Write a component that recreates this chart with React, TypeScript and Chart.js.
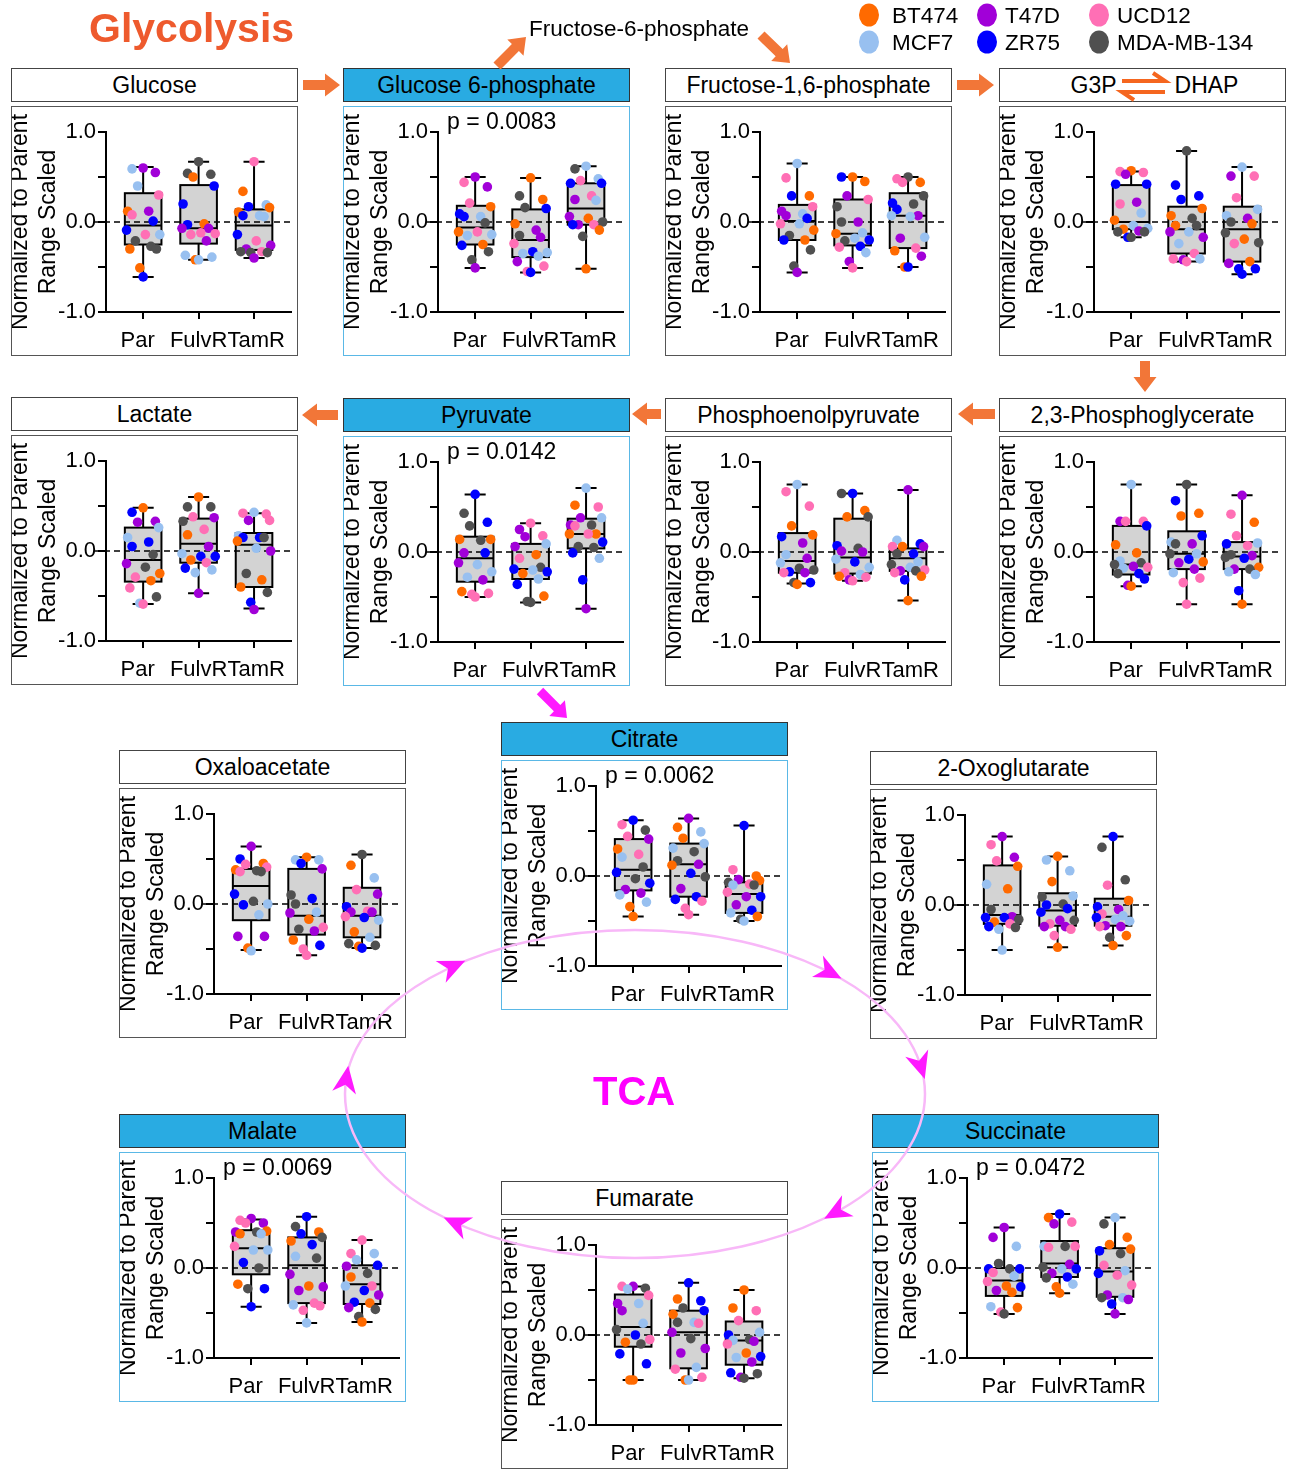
import React, { useEffect, useRef } from 'react';
import { Chart, registerables } from 'chart.js';

Chart.register(...registerables);

const FONT = "'Liberation Sans', Arial, Helvetica, sans-serif";
Chart.defaults.font.family = FONT;
Chart.defaults.color = '#000';

// ---------------- data ----------------
const GROUPS = ['Par', 'FulvR', 'TamR'];
const CELL_LINES = ['BT474', 'T47D', 'UCD12', 'MCF7', 'ZR75', 'MDA-MB-134'];
const LINE_COLORS = ['#ff6a00', '#a100d8', '#ff6fb5', '#98c0f0', '#0000ff', '#505050'];
const Y_TICKS = [-1, -0.5, 0, 0.5, 1];
const Y_TICK_LABELS = ['-1.0', '', '0.0', '', '1.0'];
const Y_TITLE = ['Normalized to Parent', 'Range Scaled'];

// points: [group][cell line][replicate]; box: [min, q1, median, q3, max] per group
const GLUCOSE = [
  [[0.12, -0.30, -0.51], [0.55, 0.60, 0.12], [0.30, 0.08, -0.14], [0.59, 0.40, -0.14], [0.01, -0.09, -0.61], [-0.21, -0.27, -0.30]],
  [[0.50, -0.02, -0.42], [-0.07, -0.07, -0.21], [-0.12, -0.13, -0.14], [-0.37, -0.42, -0.39], [0.40, 0.20, -0.03], [0.54, 0.53, 0.67]],
  [[0.34, 0.16, 0.11], [-0.26, -0.30, -0.40], [0.67, -0.21, -0.33], [0.19, 0.07, 0.06], [0.17, 0.07, -0.14], [-0.33, -0.34, -0.34]],
];
const GLUCOSE_BOX = [[-0.61, -0.25, -0.04, 0.32, 0.61], [-0.42, -0.24, -0.07, 0.41, 0.67], [-0.40, -0.31, -0.04, 0.14, 0.67]];

const G6P = [
  [[0.17, -0.11, -0.25], [0.50, 0.39, -0.51], [0.44, 0.21, -0.11], [0.06, -0.14, -0.15], [0.09, 0.06, -0.26], [-0.01, -0.33, -0.42]],
  [[0.49, 0.25, -0.02], [-0.09, -0.17, -0.44], [-0.24, -0.49, -0.55], [-0.34, -0.35, -0.38], [0.15, -0.33, -0.56], [0.29, 0.16, -0.15]],
  [[0.04, -0.09, -0.52], [0.25, 0.06, -0.03], [0.46, 0.29, -0.03], [0.62, 0.48, 0.24], [0.43, 0.43, -0.03], [0.59, 0.0, -0.16]],
];
const G6P_BOX = [[-0.51, -0.25, -0.06, 0.18, 0.50], [-0.56, -0.39, -0.20, 0.14, 0.49], [-0.52, -0.03, 0.15, 0.43, 0.62]];

const F16P = [
  [[0.29, -0.09, -0.20], [0.12, 0.07, -0.56], [0.49, 0.17, -0.02], [0.65, 0.09, -0.02], [0.29, 0.04, -0.20], [-0.15, -0.31, -0.49]],
  [[0.50, 0.45, -0.13], [0.29, 0.0, -0.44], [0.25, -0.28, -0.51], [-0.12, -0.18, -0.34], [0.50, -0.20, -0.27], [0.17, 0.0, -0.21]],
  [[0.44, -0.32, -0.50], [0.07, -0.18, -0.38], [0.48, 0.44, -0.29], [0.07, 0.06, -0.17], [0.21, 0.14, -0.50], [0.50, 0.29, 0.20]],
];
const F16P_BOX = [[-0.56, -0.20, 0.01, 0.19, 0.65], [-0.51, -0.26, -0.13, 0.25, 0.50], [-0.50, -0.29, 0.07, 0.32, 0.50]];

const G3P = [
  [[0.57, 0.02, -0.08], [0.53, 0.22, -0.10], [0.56, 0.55, 0.20], [0.10, -0.04, -0.07], [0.42, 0.42, -0.17], [-0.11, -0.11, -0.17]],
  [[0.15, 0.07, -0.04], [-0.11, -0.17, -0.42], [-0.35, -0.44, -0.41], [-0.11, -0.24, -0.41], [0.41, 0.29, 0.25], [0.79, 0.04, -0.04]],
  [[-0.02, -0.19, -0.44], [0.51, 0.04, -0.46], [0.51, 0.27, -0.24], [0.61, 0.14, 0.07], [-0.52, -0.52, -0.58], [0.0, -0.12, -0.23]],
];
const G3P_BOX = [[-0.17, -0.08, 0.0, 0.41, 0.56], [-0.44, -0.35, -0.08, 0.17, 0.79], [-0.58, -0.44, -0.08, 0.17, 0.61]];

const LACTATE = [
  [[0.48, -0.25, -0.33], [0.32, 0.33, -0.14], [-0.29, -0.41, -0.59], [0.26, 0.15, -0.58], [0.43, 0.10, 0.05], [-0.04, -0.18, -0.51]],
  [[0.60, 0.18, -0.10], [0.37, 0.05, -0.47], [0.38, 0.24, -0.13], [-0.03, -0.21, -0.24], [-0.06, -0.06, -0.19], [0.49, 0.49, 0.33]],
  [[0.11, -0.32, -0.40], [0.34, 0.0, -0.65], [0.42, 0.41, 0.34], [0.43, 0.17, 0.03], [0.15, 0.15, -0.57], [0.15, -0.25, -0.46]],
];
const LACTATE_BOX = [[-0.59, -0.34, -0.10, 0.26, 0.48], [-0.47, -0.13, 0.08, 0.36, 0.60], [-0.64, -0.40, 0.07, 0.20, 0.42]];

const PYRUVATE = [
  [[0.14, 0.14, -0.44], [-0.01, -0.12, -0.31], [-0.46, -0.47, -0.50], [-0.14, -0.22, -0.28], [0.64, 0.33, -0.01], [0.43, 0.29, 0.13]],
  [[-0.03, -0.24, -0.49], [0.25, 0.17, 0.06], [0.32, 0.18, -0.07], [0.09, -0.20, -0.30], [-0.19, -0.22, -0.36], [-0.17, -0.55, -0.56]],
  [[0.52, 0.20, 0.20], [0.38, 0.30, -0.63], [0.50, 0.29, 0.20], [0.71, 0.38, -0.07], [0.11, -0.01, -0.31], [0.30, 0.06, 0.05]],
];
const PYRUVATE_BOX = [[-0.50, -0.33, -0.07, 0.17, 0.64], [-0.56, -0.30, -0.19, 0.09, 0.32], [-0.63, 0.04, 0.20, 0.37, 0.71]];

const PEP = [
  [[0.29, 0.19, -0.36], [0.10, -0.07, -0.23], [0.67, 0.51, -0.23], [0.75, -0.03, -0.12], [0.17, -0.22, -0.34], [-0.18, -0.20, -0.34]],
  [[0.46, 0.39, -0.27], [0.01, 0.0, -0.31], [-0.23, -0.28, -0.32], [-0.08, -0.17, -0.25], [0.65, 0.07, -0.11], [0.65, 0.39, 0.04]],
  [[0.06, -0.27, -0.54], [0.69, 0.06, -0.21], [0.06, -0.20, -0.23], [0.13, -0.11, -0.17], [0.09, -0.02, -0.31], [-0.02, -0.14, -0.21]],
];
const PEP_BOX = [[-0.35, -0.23, -0.10, 0.21, 0.75], [-0.32, -0.24, -0.06, 0.37, 0.65], [-0.54, -0.21, -0.07, 0.04, 0.69]];

const PG23 = [
  [[0.08, -0.01, -0.38], [0.34, -0.16, -0.37], [0.34, 0.34, -0.17], [0.75, -0.10, -0.18], [0.29, -0.24, -0.30], [-0.12, -0.14, -0.24]],
  [[0.43, 0.40, -0.11], [0.09, -0.12, -0.19], [-0.29, -0.34, -0.58], [0.11, -0.02, -0.23], [0.57, 0.18, -0.08], [0.75, 0.09, -0.02]],
  [[0.33, -0.17, -0.58], [0.63, -0.04, -0.19], [0.42, 0.18, 0.07], [0.10, -0.22, -0.25], [0.09, -0.07, -0.43], [-0.03, -0.06, -0.19]],
];
const PG23_BOX = [[-0.38, -0.25, -0.14, 0.29, 0.75], [-0.58, -0.19, -0.02, 0.23, 0.75], [-0.58, -0.19, -0.05, 0.11, 0.63]];

const OXALOACETATE = [
  [[0.45, 0.38, -0.49], [0.64, -0.36, -0.36], [0.44, 0.36, 0.41], [0.0, -0.12, -0.52], [0.50, 0.11, -0.01], [0.37, 0.36, 0.03]],
  [[0.52, -0.17, -0.40], [0.39, -0.10, -0.30], [-0.26, -0.50, -0.57], [0.49, 0.49, -0.09], [0.45, 0.06, -0.46], [0.10, 0.0, -0.28]],
  [[0.43, -0.31, -0.47], [0.11, -0.09, -0.09], [0.16, -0.08, -0.14], [0.29, -0.18, -0.37], [-0.03, -0.15, -0.49], [0.55, -0.44, -0.46]],
];
const OXALOACETATE_BOX = [[-0.51, -0.18, 0.20, 0.39, 0.64], [-0.57, -0.34, -0.13, 0.39, 0.52], [-0.49, -0.37, -0.13, 0.18, 0.55]];

const CITRATE = [
  [[0.30, -0.34, -0.45], [0.41, -0.15, -0.19], [0.57, 0.44, 0.24], [0.21, -0.21, -0.29], [0.62, 0.04, -0.08], [0.51, 0.10, -0.03]],
  [[0.54, 0.42, 0.12], [0.64, 0.13, -0.14], [-0.28, -0.36, -0.43], [0.49, 0.36, 0.31], [0.03, -0.23, -0.26], [0.27, 0.17, -0.01]],
  [[0.0, -0.05, -0.45], [-0.04, -0.23, -0.32], [0.07, -0.09, -0.18], [-0.10, -0.41, -0.50], [0.56, -0.23, -0.38], [-0.07, -0.10, -0.48]],
];
const CITRATE_BOX = [[-0.45, -0.16, 0.07, 0.41, 0.62], [-0.43, -0.23, 0.13, 0.36, 0.64], [-0.50, -0.41, -0.20, -0.07, 0.56]];

const OXOGLUTARATE = [
  [[0.43, 0.18, -0.19], [0.76, 0.53, -0.13], [0.67, 0.49, -0.21], [0.23, -0.27, -0.50], [-0.14, -0.14, -0.24], [-0.05, -0.16, -0.25]],
  [[0.54, 0.26, -0.47], [-0.17, -0.24, -0.24], [-0.21, -0.27, -0.34], [0.50, 0.38, 0.10], [0.0, -0.04, -0.08], [0.09, 0.01, -0.17]],
  [[0.05, -0.34, -0.45], [-0.05, -0.23, -0.24], [0.22, -0.10, -0.24], [-0.12, -0.16, -0.18], [0.76, -0.02, -0.14], [0.64, 0.28, -0.36]],
];
const OXOGLUTARATE_BOX = [[-0.50, -0.21, -0.11, 0.44, 0.76], [-0.47, -0.23, -0.06, 0.13, 0.54], [-0.45, -0.23, -0.13, 0.07, 0.76]];

const MALATE = [
  [[0.41, 0.38, -0.18], [0.55, 0.50, 0.40], [0.53, 0.50, 0.24], [0.38, 0.20, 0.20], [0.06, -0.23, -0.43], [0.40, 0.0, -0.23]],
  [[0.40, 0.30, -0.20], [-0.07, -0.21, -0.25], [-0.39, -0.42, -0.47], [0.13, -0.41, -0.61], [0.57, 0.38, 0.26], [0.46, 0.34, 0.11]],
  [[-0.10, -0.39, -0.60], [0.02, -0.30, -0.44], [0.31, 0.16, -0.20], [0.16, 0.09, -0.20], [0.03, -0.25, -0.38], [-0.06, -0.46, -0.54]],
];
const MALATE_BOX = [[-0.43, -0.07, 0.22, 0.42, 0.54], [-0.61, -0.39, 0.03, 0.34, 0.57], [-0.60, -0.40, -0.18, 0.03, 0.31]];

const FUMARATE = [
  [[-0.08, -0.50, -0.50], [0.54, 0.35, 0.27], [0.54, 0.44, -0.05], [0.51, 0.35, 0.13], [0.0, -0.21, -0.32], [0.52, 0.06, -0.10]],
  [[0.40, 0.23, -0.50], [0.03, -0.15, -0.20], [0.13, -0.38, -0.47], [0.14, -0.36, -0.50], [0.58, 0.38, 0.27], [0.30, 0.14, -0.04]],
  [[0.50, 0.30, -0.20], [-0.07, -0.30, -0.47], [0.27, 0.16, -0.10], [0.03, -0.06, -0.25], [0.0, -0.24, -0.42], [-0.05, -0.43, -0.48]],
];
const FUMARATE_BOX = [[-0.50, -0.13, 0.09, 0.45, 0.54], [-0.50, -0.37, 0.03, 0.27, 0.58], [-0.48, -0.33, -0.06, 0.15, 0.50]];

const SUCCINATE = [
  [[-0.20, -0.27, -0.44], [0.45, 0.34, -0.25], [-0.05, -0.15, -0.49], [0.24, -0.09, -0.43], [-0.01, -0.01, -0.21], [0.05, -0.01, -0.51]],
  [[0.56, -0.21, -0.28], [0.49, 0.04, -0.06], [0.51, 0.23, 0.24], [0.24, -0.01, -0.18], [0.60, -0.01, -0.10], [0.24, 0.01, -0.11]],
  [[0.34, 0.26, 0.21], [-0.30, -0.35, -0.51], [0.03, -0.08, -0.19], [0.56, -0.03, -0.33], [0.19, -0.06, -0.40], [0.49, 0.16, -0.33]],
];
const SUCCINATE_BOX = [[-0.51, -0.31, -0.14, 0.0, 0.45], [-0.28, -0.10, 0.05, 0.30, 0.60], [-0.51, -0.32, -0.04, 0.22, 0.56]];

// ---------------- layout ----------------
const PANEL_W = 287;
const PANEL_H = 250;
const BORDER = 1.5;
const CANVAS_W = 284;
const CANVAS_H = 247;
const PAD_TOP = 25;
const PLOT_H = 180;
const Y_AXIS_W = 94;
// beeswarm-like spread, applied by rank within a group (style constant)
const JITTER = [0, -0.2, 0.22, -0.1, 0.28, -0.28, 0.1, -0.2, 0.18, -0.3, 0.04, 0.3, -0.14, 0.14, -0.24, 0.24, -0.06, 0];
// spacing around category labels (en space after first, thin space before last), as in the original layout
const LABEL_PAD = ['', '\u2002', '\u2009'];

type PanelCfg = {
  title: string;
  parts?: [string, string];
  x: number;
  cy: number;
  hi: boolean;
  p?: string;
  pts: number[][][];
  box: number[][];
};

const PANELS: PanelCfg[] = [
  { title: 'Glucose', x: 11, cy: 106, hi: false, pts: GLUCOSE, box: GLUCOSE_BOX },
  { title: 'Glucose 6-phosphate', x: 343, cy: 106, hi: true, p: 'p = 0.0083', pts: G6P, box: G6P_BOX },
  { title: 'Fructose-1,6-phosphate', x: 665, cy: 106, hi: false, pts: F16P, box: F16P_BOX },
  { title: 'G3P DHAP', parts: ['G3P', 'DHAP'], x: 999, cy: 106, hi: false, pts: G3P, box: G3P_BOX },
  { title: 'Lactate', x: 11, cy: 435, hi: false, pts: LACTATE, box: LACTATE_BOX },
  { title: 'Pyruvate', x: 343, cy: 436, hi: true, p: 'p = 0.0142', pts: PYRUVATE, box: PYRUVATE_BOX },
  { title: 'Phosphoenolpyruvate', x: 665, cy: 436, hi: false, pts: PEP, box: PEP_BOX },
  { title: '2,3-Phosphoglycerate', x: 999, cy: 436, hi: false, pts: PG23, box: PG23_BOX },
  { title: 'Oxaloacetate', x: 119, cy: 788, hi: false, pts: OXALOACETATE, box: OXALOACETATE_BOX },
  { title: 'Citrate', x: 501, cy: 760, hi: true, p: 'p = 0.0062', pts: CITRATE, box: CITRATE_BOX },
  { title: '2-Oxoglutarate', x: 870, cy: 789, hi: false, pts: OXOGLUTARATE, box: OXOGLUTARATE_BOX },
  { title: 'Malate', x: 119, cy: 1152, hi: true, p: 'p = 0.0069', pts: MALATE, box: MALATE_BOX },
  { title: 'Fumarate', x: 501, cy: 1219, hi: false, pts: FUMARATE, box: FUMARATE_BOX },
  { title: 'Succinate', x: 872, cy: 1152, hi: true, p: 'p = 0.0472', pts: SUCCINATE, box: SUCCINATE_BOX },
];

function makeBoxPlugin(cfg: PanelCfg) {
  return {
    id: 'boxplot-' + cfg.title,
    beforeDatasetsDraw(chart: any) {
      const { ctx, chartArea } = chart;
      const xs = chart.scales.x;
      const ys = chart.scales.y;
      const unit = xs.getPixelForValue(1) - xs.getPixelForValue(0);
      const hw = unit * 0.33;
      const cw = unit * 0.19;
      ctx.save();
      ctx.strokeStyle = '#000';
      ctx.lineWidth = 2;
      ctx.setLineDash([]);
      cfg.box.forEach((st, i) => {
        const [mn, q1, md, q3, mx] = st.map((v) => ys.getPixelForValue(v));
        const cx = xs.getPixelForValue(i);
        ctx.beginPath();
        ctx.moveTo(cx, mx); ctx.lineTo(cx, mn);
        ctx.moveTo(cx - cw, mx); ctx.lineTo(cx + cw, mx);
        ctx.moveTo(cx - cw, mn); ctx.lineTo(cx + cw, mn);
        ctx.stroke();
        ctx.fillStyle = '#d3d3d3';
        ctx.fillRect(cx - hw, q3, hw * 2, q1 - q3);
        ctx.strokeRect(cx - hw, q3, hw * 2, q1 - q3);
        ctx.beginPath();
        ctx.moveTo(cx - hw, md); ctx.lineTo(cx + hw, md);
        ctx.stroke();
      });
      const y0 = ys.getPixelForValue(0);
      ctx.setLineDash([6, 4]);
      ctx.lineWidth = 1.6;
      ctx.beginPath();
      ctx.moveTo(chartArea.left - 12, y0);
      ctx.lineTo(chartArea.right, y0);
      ctx.stroke();
      ctx.restore();
    },
    afterDraw(chart: any) {
      if (!cfg.p) return;
      const { ctx, chartArea } = chart;
      const ys = chart.scales.y;
      ctx.save();
      ctx.fillStyle = '#000';
      ctx.font = `23px ${FONT}`;
      ctx.textAlign = 'left';
      ctx.textBaseline = 'alphabetic';
      ctx.fillText(cfg.p, chartArea.left + 9, ys.getPixelForValue(1) - 3);
      ctx.restore();
    },
  };
}

function Panel({ cfg }: { cfg: PanelCfg }) {
  const ref = useRef<HTMLCanvasElement | null>(null);
  useEffect(() => {
    if (!ref.current) return;
    const data: { x: number; y: number }[] = [];
    const colors: string[] = [];
    cfg.pts.forEach((group, gi) => {
      const arr: { v: number; li: number }[] = [];
      group.forEach((reps, li) => reps.forEach((v) => arr.push({ v, li })));
      arr.sort((a, b) => b.v - a.v);
      arr.forEach((p, rank) => {
        data.push({ x: gi + JITTER[rank % JITTER.length], y: p.v });
        colors.push(LINE_COLORS[p.li]);
      });
    });
    const chart = new Chart(ref.current, {
      type: 'scatter',
      data: {
        datasets: [
          {
            data,
            pointBackgroundColor: colors,
            pointBorderColor: colors,
            pointBorderWidth: 0,
            pointRadius: 4.8,
            pointHoverRadius: 4.8,
            clip: false,
          } as any,
        ],
      },
      options: {
        animation: false,
        responsive: false,
        devicePixelRatio: 1,
        events: [],
        layout: { padding: { top: PAD_TOP, right: 2, left: 0, bottom: 0 } },
        plugins: { legend: { display: false }, tooltip: { enabled: false }, title: { display: false } },
        scales: {
          x: {
            type: 'linear',
            min: -0.67,
            max: 2.67,
            afterBuildTicks: (s: any) => {
              s.ticks = GROUPS.map((_, i) => ({ value: i }));
            },
            afterFit: (s: any) => {
              s.height = CANVAS_H - PAD_TOP - PLOT_H;
            },
            ticks: {
              callback: (v: any) => {
                const i = Number(v);
                const name = GROUPS[i] ?? '';
                if (i === 0) return name + LABEL_PAD[1];
                if (i === GROUPS.length - 1) return LABEL_PAD[2] + name;
                return name;
              },
              autoSkip: false,
              maxRotation: 0,
              minRotation: 0,
              padding: 9,
              font: { size: 22, family: FONT },
              color: '#000',
            },
            grid: { drawOnChartArea: false, drawTicks: true, tickLength: 7, color: '#000', lineWidth: 2 },
            border: { display: true, color: '#000', width: 2 },
          },
          y: {
            type: 'linear',
            min: -1,
            max: 1,
            afterBuildTicks: (s: any) => {
              s.ticks = Y_TICKS.map((v) => ({ value: v }));
            },
            afterFit: (s: any) => {
              s.width = Y_AXIS_W;
            },
            ticks: {
              callback: (v: any) => {
                const i = Y_TICKS.indexOf(Number(v));
                return i >= 0 ? Y_TICK_LABELS[i] : '';
              },
              padding: 2,
              font: { size: 22, family: FONT },
              color: '#000',
            },
            grid: { drawOnChartArea: false, drawTicks: true, tickLength: 8, color: '#000', lineWidth: 2 },
            border: { display: true, color: '#000', width: 2 },
            title: {
              display: true,
              text: Y_TITLE,
              font: { size: 23, family: FONT, lineHeight: 1.2 },
              color: '#000',
              padding: { top: -5, bottom: 0 },
            },
          },
        },
      } as any,
      plugins: [makeBoxPlugin(cfg)],
    });
    return () => chart.destroy();
  }, [cfg]);

  return (
    <>
      <div
        style={{
          position: 'absolute',
          left: cfg.x,
          top: cfg.cy - 38,
          width: PANEL_W,
          height: 34,
          boxSizing: 'border-box',
          border: `${BORDER}px solid ${cfg.hi ? '#333' : '#444'}`,
          background: cfg.hi ? '#29abe2' : '#fff',
          display: 'flex',
          alignItems: 'center',
          justifyContent: 'center',
          fontSize: 23,
          lineHeight: '1',
          color: '#000',
          whiteSpace: 'nowrap',
        }}
      >
        {cfg.parts ? (
          <span style={{ display: 'flex', alignItems: 'center', paddingLeft: 24 }}>
            <span>{cfg.parts[0]}</span>
            <span style={{ display: 'inline-block', width: 58 }} />
            <span>{cfg.parts[1]}</span>
          </span>
        ) : (
          cfg.title
        )}
      </div>
      <div
        style={{
          position: 'absolute',
          left: cfg.x,
          top: cfg.cy,
          width: PANEL_W,
          height: PANEL_H,
          boxSizing: 'border-box',
          border: `${BORDER}px solid ${cfg.hi ? '#5ab8e6' : '#555'}`,
          background: '#fff',
        }}
      >
        <canvas ref={ref} width={CANVAS_W} height={CANVAS_H} style={{ display: 'block', width: CANVAS_W, height: CANVAS_H }} />
      </div>
    </>
  );
}

// ---------------- decorations ----------------
const ORANGE = '#f27638';
const MAGENTA = '#ff1aff';
const ORANGE_ARROWS = [
  [303, 85, 340, 85],
  [497, 66, 526, 37],
  [761, 35, 790, 63],
  [957, 85, 994, 85],
  [1145, 361, 1145, 392],
  [995, 414, 958, 414],
  [661, 414, 632, 414],
  [338, 415, 302, 415],
];
const MAGENTA_ARROWS = [[540, 691, 567, 718]];
const CYCLE = { cx: 635, cy: 1094, rx: 290, ry: 164 };
const CYCLE_HEADS = [-129, -48, -10, 46, 128, 185];
const LEGEND_ROWS = [[0, 1, 2], [3, 4, 5]];
const LEGEND_MARK_X = [869, 987, 1099];
const LEGEND_TEXT_X = [892, 1005, 1117];
const LEGEND_ROW_Y = [15, 42];

function blockArrow(x1: number, y1: number, x2: number, y2: number, shaft = 10, headW = 23, headL = 15) {
  const dx = x2 - x1, dy = y2 - y1;
  const L = Math.hypot(dx, dy);
  const ux = dx / L, uy = dy / L;
  const nx = -uy, ny = ux;
  const bx = x2 - ux * headL, by = y2 - uy * headL;
  const pts = [
    [x1 + (nx * shaft) / 2, y1 + (ny * shaft) / 2],
    [bx + (nx * shaft) / 2, by + (ny * shaft) / 2],
    [bx + (nx * headW) / 2, by + (ny * headW) / 2],
    [x2, y2],
    [bx - (nx * headW) / 2, by - (ny * headW) / 2],
    [bx - (nx * shaft) / 2, by - (ny * shaft) / 2],
    [x1 - (nx * shaft) / 2, y1 - (ny * shaft) / 2],
  ];
  return pts.map((p) => p.map((v) => v.toFixed(1)).join(',')).join(' ');
}

function cycleHead(deg: number) {
  const t = (deg * Math.PI) / 180;
  const { cx, cy, rx, ry } = CYCLE;
  const px = cx + rx * Math.cos(t), py = cy + ry * Math.sin(t);
  let dx = -rx * Math.sin(t), dy = ry * Math.cos(t);
  const L = Math.hypot(dx, dy);
  dx /= L; dy /= L;
  const nx = -dy, ny = dx;
  const tip = [px + dx * 14, py + dy * 14];
  const back = [px - dx * 13, py - dy * 13];
  const notch = [px - dx * 5, py - dy * 5];
  const l = [back[0] + nx * 12, back[1] + ny * 12];
  const r = [back[0] - nx * 12, back[1] - ny * 12];
  return `M${tip[0]},${tip[1]} L${l[0]},${l[1]} L${notch[0]},${notch[1]} L${r[0]},${r[1]} Z`;
}

function Overlay() {
  return (
    <svg
      width={1293}
      height={1469}
      style={{ position: 'absolute', left: 0, top: 0, pointerEvents: 'none', zIndex: 5 }}
      fontFamily={FONT}
    >
      <text x={89} y={42} fontSize={41} fontWeight="bold" fill="#ee5a2d">Glycolysis</text>
      <text x={529} y={36} fontSize={22.5} fill="#000">Fructose-6-phosphate</text>
      {LEGEND_ROWS.map((row, ri) =>
        row.map((li, ci) => (
          <g key={li}>
            <ellipse cx={LEGEND_MARK_X[ci]} cy={LEGEND_ROW_Y[ri]} rx={10} ry={11.5} fill={LINE_COLORS[li]} />
            <text x={LEGEND_TEXT_X[ci]} y={LEGEND_ROW_Y[ri] + 8} fontSize={22.5} fill="#000">{CELL_LINES[li]}</text>
          </g>
        ))
      )}
      {ORANGE_ARROWS.map((a, i) => (
        <polygon key={'o' + i} points={blockArrow(a[0], a[1], a[2], a[3])} fill={ORANGE} />
      ))}
      {/* equilibrium arrows G3P <-> DHAP */}
      <g stroke="#f5661f" strokeWidth={4} fill="none">
        <path d="M1122,81 L1165,81 L1153,73" />
        <path d="M1165,92 L1122,92 L1134,100" />
      </g>
      {MAGENTA_ARROWS.map((a, i) => (
        <polygon key={'m' + i} points={blockArrow(a[0], a[1], a[2], a[3], 9, 22, 14)} fill={MAGENTA} />
      ))}
      <ellipse cx={CYCLE.cx} cy={CYCLE.cy} rx={CYCLE.rx} ry={CYCLE.ry} fill="none" stroke="#f8b8f8" strokeWidth={2.5} />
      {CYCLE_HEADS.map((d) => (
        <path key={d} d={cycleHead(d)} fill={MAGENTA} />
      ))}
      <text x={593} y={1105} fontSize={40} fontWeight="bold" fill="#ff00ff">TCA</text>
    </svg>
  );
}

export default function App() {
  return (
    <div
      style={{
        position: 'absolute',
        left: 0,
        top: 0,
        width: 1293,
        height: 1469,
        background: '#fff',
        overflow: 'hidden',
        fontFamily: FONT,
      }}
    >
      {PANELS.map((p) => (
        <Panel key={p.title} cfg={p} />
      ))}
      <Overlay />
    </div>
  );
}
